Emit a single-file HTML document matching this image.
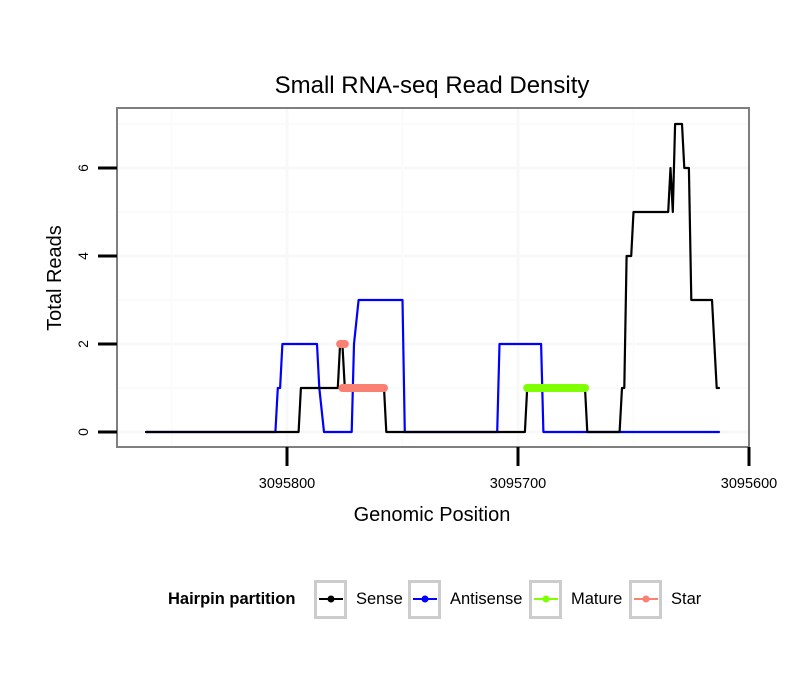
<!DOCTYPE html>
<html><head><meta charset="utf-8"><style>
body{margin:0;background:#fff;}
svg text{font-family:"Liberation Sans",sans-serif;}
</style></head><body>
<svg id="chart" width="810" height="690" xmlns="http://www.w3.org/2000/svg">
<rect width="810" height="690" fill="#fff"/>
<text x="432" y="93" font-size="24" text-anchor="middle">Small RNA-seq Read Density</text>
<g id="grid"></g>
<g id="series"></g>
<rect x="117" y="108" width="632" height="339" fill="none" stroke="#7f7f7f" stroke-width="2"/>
<g id="axes"></g>
<text x="432" y="521" font-size="20" text-anchor="middle">Genomic Position</text>
<text transform="translate(61,278) rotate(-90)" font-size="20" text-anchor="middle">Total Reads</text>
<g>
<text x="168" y="604" font-size="16.5" font-weight="bold">Hairpin partition</text>
<g id="legend"></g>
</g>
</svg>
<script>
const xTicks=[3095800,3095700,3095600];
const yTicks=[0,2,4,6];
const senseX=[3095861,3095795,3095794,3095778,3095777,3095776,3095775,3095758,3095757,3095697,3095696,3095671,3095670,3095656,3095655,3095654,3095653,3095651,3095650,3095635,3095634,3095633,3095632,3095629,3095628,3095626,3095625,3095616,3095614,3095613];
const senseY=[0,0,1,1,2,2,1,1,0,0,1,1,0,0,1,1,4,4,5,5,6,5,7,7,6,6,3,3,1,1];
const antiX=[3095861,3095805,3095804,3095803,3095802,3095787,3095786,3095784,3095772,3095771,3095769,3095750,3095749,3095709,3095708,3095690,3095689,3095613];
const antiY=[0,0,1,1,2,2,1,0,0,2,3,3,0,0,2,2,0,0];
const matureX=[3095696,3095671];
const matureY=[1,1];
const starAX=[3095777,3095775];
const starAY=[2,2];
const starBX=[3095776,3095758];
const starBY=[1,1];
const legendLabels=["Sense","Antisense","Mature","Star"];
const legendColors=["#000000","#0000ff","#7fff00","#fa8072"];

const NS="http://www.w3.org/2000/svg";
function xs(p){return 287+(3095800-p)*2.31;}
function ys(v){return 432-v*44;}
function mk(tag,attrs,parent){const e=document.createElementNS(NS,tag);for(const k in attrs)e.setAttribute(k,attrs[k]);parent.appendChild(e);return e;}
const grid=document.getElementById('grid'),axes=document.getElementById('axes'),ser=document.getElementById('series');
for(let v=1;v<=7;v+=2){const g=mk('line',{x1:117,x2:749,y1:ys(v),y2:ys(v),stroke:'#fbfbfb','stroke-width':2},grid);

}
yTicks.forEach(v=>{const g=mk('line',{x1:117,x2:749,y1:ys(v),y2:ys(v),stroke:'#f8f8f8','stroke-width':3},grid);

});
[3095850,3095750,3095650].forEach(p=>{const g=mk('line',{x1:xs(p),x2:xs(p),y1:108,y2:447,stroke:'#fbfbfb','stroke-width':2},grid);

});
xTicks.forEach(p=>{const g=mk('line',{x1:xs(p),x2:xs(p),y1:108,y2:447,stroke:'#f8f8f8','stroke-width':3},grid);

});
yTicks.forEach(v=>{const t=mk('line',{x1:98,x2:117,y1:ys(v),y2:ys(v),stroke:'#000','stroke-width':3},axes);


const l=mk('text',{transform:`translate(88,${ys(v)}) rotate(-90)`,'font-size':14,'text-anchor':'middle'},axes);l.textContent=v;

});
xTicks.forEach(p=>{const t=mk('line',{x1:xs(p),x2:xs(p),y1:447,y2:466,stroke:'#000','stroke-width':3},axes);


const l=mk('text',{x:xs(p),y:488,'font-size':14.5,'text-anchor':'middle'},axes);l.textContent=p;

});
function path(X,Y,color,w,name){const d=X.map((p,i)=>(i?'L':'M')+xs(p).toFixed(1)+','+ys(Y[i]).toFixed(1)).join('');
const e=mk('path',{d:d,fill:'none',stroke:color,'stroke-width':w,'stroke-linecap':'round','stroke-linejoin':'round'},ser);

}
path(antiX,antiY,'#0000ff',2.2,'antisense-line');
path(senseX,senseY,'#000000',2.2,'sense-line');
path(matureX,matureY,'#7fff00',8,'mature-segment');
path(starAX,starAY,'#fa8072',8,'star-segment-upper');
path(starBX,starBY,'#fa8072',8,'star-segment-lower');
const lg=document.getElementById('legend');
const bx=[314,408,529,629];
legendLabels.forEach((lab,i)=>{const r=mk('rect',{x:bx[i]+1.5,y:581.5,width:30,height:36,fill:'#fff',stroke:'#cccccc','stroke-width':3},lg);


mk('line',{x1:bx[i]+5,x2:bx[i]+29,y1:599,y2:599,stroke:legendColors[i],'stroke-width':2},lg);
mk('circle',{cx:bx[i]+17,cy:599,r:3.5,fill:legendColors[i]},lg);
const t=mk('text',{x:bx[i]+42,y:604,'font-size':16.5},lg);t.textContent=lab;

});
</script>
</body></html>
